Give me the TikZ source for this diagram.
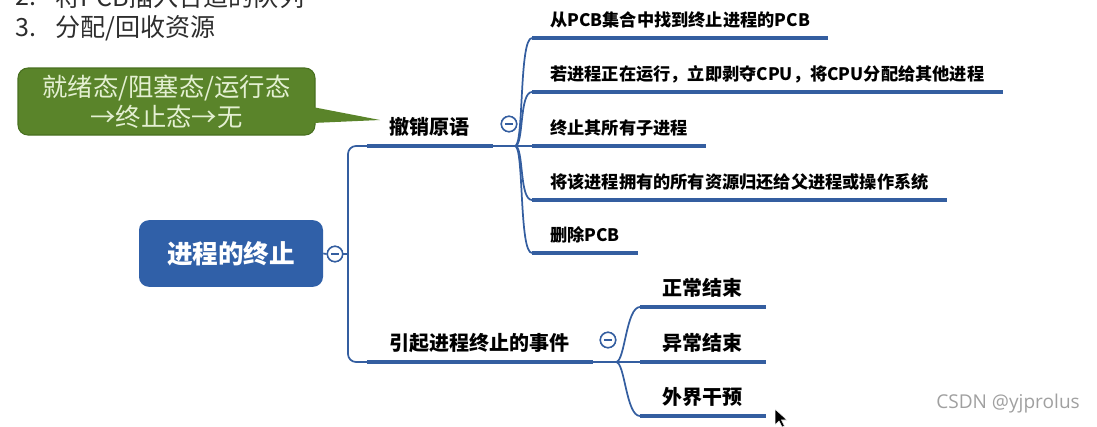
\documentclass[tikz,border=0pt]{standalone}
\usepackage{fontspec}
\setmainfont{Noto Sans CJK SC}
\newfontfamily\wmfont{Open Sans}
\usetikzlibrary{calc}
\definecolor{lineblue}{RGB}{52,94,160}
\definecolor{rootblue}{RGB}{48,96,168}
\definecolor{callgreen}{RGB}{90,132,42}
\definecolor{callborder}{RGB}{72,112,32}
\definecolor{calltext}{RGB}{228,240,210}
\definecolor{toptext}{RGB}{45,45,45}
\definecolor{wmgray}{RGB}{160,160,160}
\tikzset{
  thinl/.style={draw=lineblue, line width=1.3pt},
  ul/.style={draw=lineblue, line width=3.2pt},
  lvone/.style={anchor=south west, inner xsep=17pt, inner ysep=7.5pt, text height=0.88em, text depth=0.12em, font=\fontsize{15pt}{18pt}\selectfont\bfseries},
  lvtwo/.style={anchor=south west, inner xsep=13.5pt, inner ysep=7.5pt, text height=0.88em, text depth=0.12em, font=\fontsize{12.9pt}{15pt}\selectfont\bfseries},
  lvtwob/.style={lvone},
  minus/.style={circle, draw=lineblue, line width=1.1pt, fill=white, minimum size=11.5pt, inner sep=0pt,
    path picture={\draw[lineblue, line width=1.1pt] ([xshift=-3pt]path picture bounding box.center) -- ([xshift=3pt]path picture bounding box.center);}},
}
\begin{document}
\begin{tikzpicture}[x=0.75pt, y=-0.75pt]
\useasboundingbox (0,0) rectangle (1097,426);
% top text lines (partially cut, as in the reference)
\node[anchor=west, inner sep=0pt, text=toptext, font=\fontsize{18.8pt}{22pt}\selectfont] (n2) at (15,-3) {2.};
\node[anchor=west, inner sep=0pt, text=toptext, font=\fontsize{18.8pt}{22pt}\selectfont] (t2) at (55,-3) {将PCB插入合适的队列};
\node[anchor=west, inner sep=0pt, text=toptext, font=\fontsize{18.8pt}{22pt}\selectfont] (n3) at (15,28) {3.};
\node[anchor=west, inner sep=0pt, text=toptext, font=\fontsize{18.8pt}{22pt}\selectfont] (t3) at (55,28) {分配/回收资源};

% callout
\node[draw=callborder, line width=0.8pt, fill=callgreen, rounded corners=7.5pt, minimum width=222.75pt, minimum height=50.25pt,
  inner sep=0pt, align=center, text=calltext, font=\fontsize{19pt}{22.5pt}\selectfont] (call) at (166.5,101.5)
  {就绪态/阻塞态/运行态\\→终止态→无};
\coordinate (tip) at (380,120);
\fill[callgreen] ($(call.east)+(-3,5.5)$) -- (tip) -- ($(call.east)+(-3,21.5)$) -- cycle;

% root
\node[fill=rootblue, rounded corners=7.5pt, minimum width=138pt, minimum height=50pt, inner sep=0pt,
  text=white, font=\fontsize{19.2pt}{22pt}\selectfont\bfseries] (root) at (231,253.5) {进程的终止};
\node[minus] (cr) at (335,254) {};
\coordinate (jn) at (348,254);

% level one
\node[lvone] (c1) at (367,146) {撤销原语};
\node[lvone] (c2) at (367,362) {引起进程终止的事件};
\node[minus] (m1) at (509,124) {};
\node[minus] (m2) at (608,340) {};

% level two (top)
\node[lvtwo] (a1) at (532,38) {从PCB集合中找到终止进程的PCB};
\node[lvtwo] (a2) at (532,92) {若进程正在运行，立即剥夺CPU，将CPU分配给其他进程};
\node[lvtwo] (a3) at (532,146) {终止其所有子进程};
\node[lvtwo] (a4) at (532,200) {将该进程拥有的所有资源归还给父进程或操作系统};
\node[lvtwo] (a5) at (532,253) {删除PCB};

% level two (bottom)
\node[lvtwob] (b1) at (640,307) {正常结束};
\node[lvtwob] (b2) at (640,362) {异常结束};
\node[lvtwob] (b3) at (640,416) {外界干预};

% connectors
\draw[thinl] (root.east) -- (cr.west);
\draw[thinl] (cr.east) -- (jn);
\draw[thinl, rounded corners=6pt] (c1.south west) -| (jn) |- (c2.south west);

\coordinate (f1) at (515,146);
\draw[thinl] (c1.south east) -- (a3.south west);
\foreach \t in {a1,a2,a4,a5}
  \draw[thinl] (f1) .. controls +(9,0) and +(-13,0) .. (\t.south west);

\coordinate (f2) at (616,362);
\draw[thinl] (c2.south east) -- (b2.south west);
\foreach \t in {b1,b3}
  \draw[thinl] (f2) .. controls +(9,0) and +(-14,0) .. (\t.south west);

% underlines
\foreach \t in {c1,c2,a1,a2,a3,a4,a5,b1,b2,b3}
  \draw[ul] (\t.south west) -- (\t.south east);

% redraw minus circles on top
\node[minus] at (m1) {};
\node[minus] at (m2) {};
\node[minus] at (cr) {};

% cursor
\filldraw[fill=black, draw=white, line width=0.4pt] (775,409) -- (775,425) -- (779,421) -- (782,427) -- (784.5,426) -- (781.5,420) -- (787,420) -- cycle;

% watermark
\node[anchor=west, inner sep=0pt, text=wmgray, font=\wmfont\fontsize{14.3pt}{17pt}\selectfont] (wm) at (936,404) {CSDN @yjprolus};
\end{tikzpicture}
\end{document}
